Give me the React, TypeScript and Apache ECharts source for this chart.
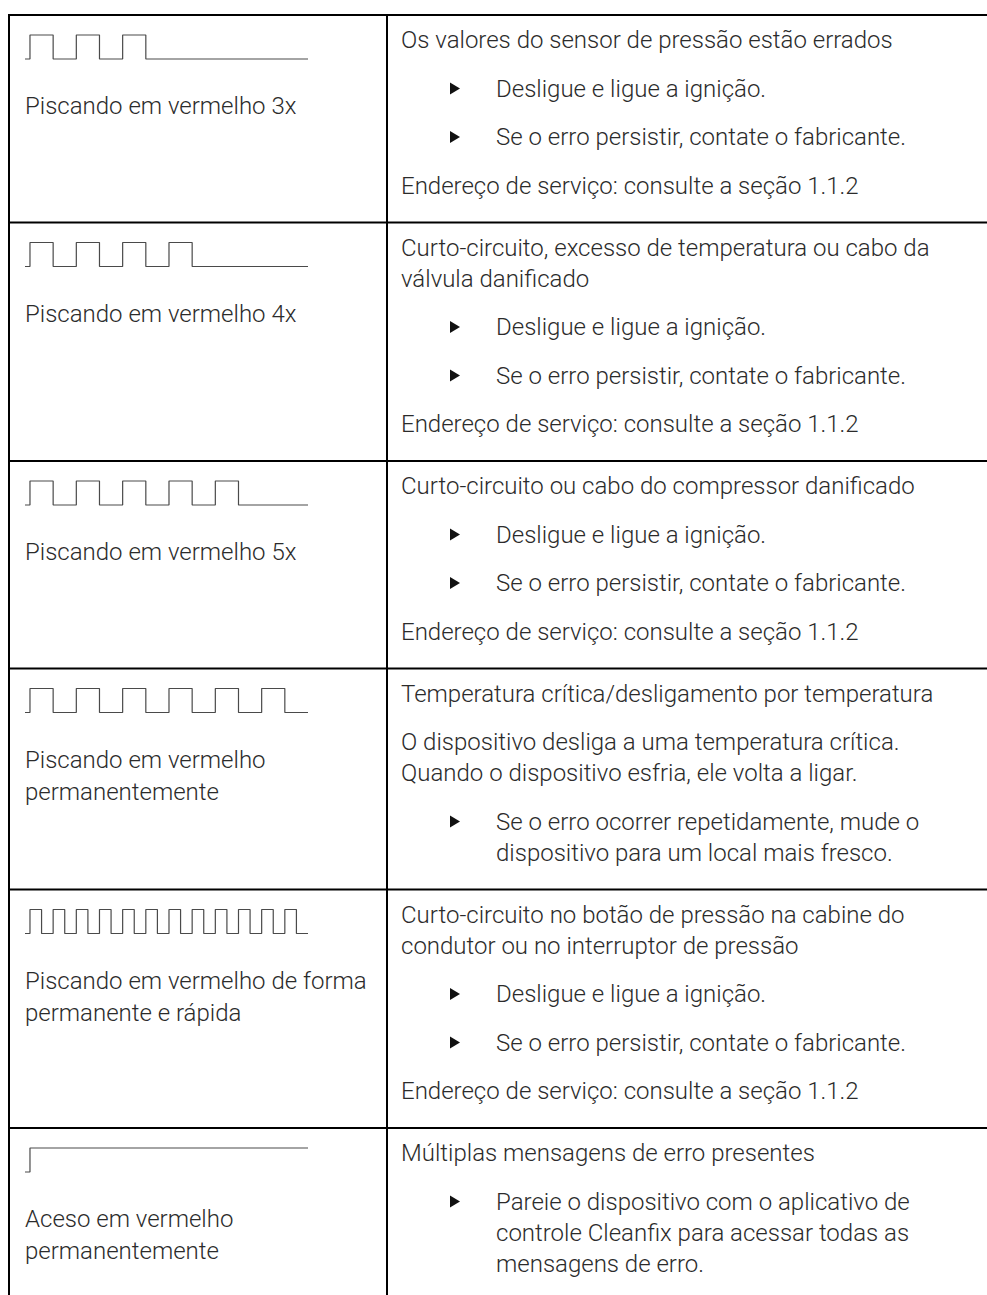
import React, { useEffect, useRef } from "react";
import * as echarts from "echarts";

// ---------- data ----------
const blinkLabels: string[][] = [
  ["Piscando em vermelho 3x"],
  ["Piscando em vermelho 4x"],
  ["Piscando em vermelho 5x"],
  ["Piscando em vermelho", "permanentemente"],
  ["Piscando em vermelho de forma", "permanente e rápida"],
  ["Aceso em vermelho", "permanentemente"],
];

// LED level per time slot (1 = on, 0 = off), 24 slots per pattern
const wave3x = [1, 1, 0, 0, 1, 1, 0, 0, 1, 1, 0, 0, 0, 0, 0, 0, 0, 0, 0, 0, 0, 0, 0, 0];
const wave4x = [1, 1, 0, 0, 1, 1, 0, 0, 1, 1, 0, 0, 1, 1, 0, 0, 0, 0, 0, 0, 0, 0, 0, 0];
const wave5x = [1, 1, 0, 0, 1, 1, 0, 0, 1, 1, 0, 0, 1, 1, 0, 0, 1, 1, 0, 0, 0, 0, 0, 0];
const wavePermanent = [1, 1, 0, 0, 1, 1, 0, 0, 1, 1, 0, 0, 1, 1, 0, 0, 1, 1, 0, 0, 1, 1, 0, 0];
const waveFast = [1, 0, 1, 0, 1, 0, 1, 0, 1, 0, 1, 0, 1, 0, 1, 0, 1, 0, 1, 0, 1, 0, 1, 0];
const waveSolid = [1, 1, 1, 1, 1, 1, 1, 1, 1, 1, 1, 1, 1, 1, 1, 1, 1, 1, 1, 1, 1, 1, 1, 1];
const waves = [wave3x, wave4x, wave5x, wavePermanent, waveFast, waveSolid];

const causeTitles: string[][] = [
  ["Os valores do sensor de pressão estão errados"],
  ["Curto-circuito, excesso de temperatura ou cabo da", "válvula danificado"],
  ["Curto-circuito ou cabo do compressor danificado"],
  ["Temperatura crítica/desligamento por temperatura"],
  ["Curto-circuito no botão de pressão na cabine do", "condutor ou no interruptor de pressão"],
  ["Múltiplas mensagens de erro presentes"],
];

type Para = { bullet: boolean; lines: string[] };
const stepIgnition: Para = { bullet: true, lines: ["Desligue e ligue a ignição."] };
const stepManufacturer: Para = { bullet: true, lines: ["Se o erro persistir, contate o fabricante."] };
const serviceAddress: Para = { bullet: false, lines: ["Endereço de serviço: consulte a seção 1.1.2"] };

const remedies: Para[][] = [
  [stepIgnition, stepManufacturer, serviceAddress],
  [stepIgnition, stepManufacturer, serviceAddress],
  [stepIgnition, stepManufacturer, serviceAddress],
  [
    {
      bullet: false,
      lines: [
        "O dispositivo desliga a uma temperatura crítica.",
        "Quando o dispositivo esfria, ele volta a ligar.",
      ],
    },
    {
      bullet: true,
      lines: ["Se o erro ocorrer repetidamente, mude o", "dispositivo para um local mais fresco."],
    },
  ],
  [stepIgnition, stepManufacturer, serviceAddress],
  [
    {
      bullet: true,
      lines: [
        "Pareie o dispositivo com o aplicativo de",
        "controle Cleanfix para acessar todas as",
        "mensagens de erro.",
      ],
    },
  ],
];

// ---------- layout ----------
const W = 987;
const H = 1295;
const TABLE_LEFT = 9;
const TABLE_TOP = 15;
const COL_X = 387;
const TEXT_L = 25;
const TEXT_R = 401;
const BULLET_X = 450;
const BULLET_TEXT_X = 496;
const PAD_TOP = 25;
const LINE_H = 31;
const PARA_GAP = 48.5;
const PAD_BOTTOM = 37;
const FONT_SIZE = 24;
const TEXT_COLOR = "#2b2b2b";

function buildOption() {
  const graphics: any[] = [];
  const grids: any[] = [];
  const xAxes: any[] = [];
  const yAxes: any[] = [];
  const series: any[] = [];

  const textEl = (x: number, y: number, text: string) => ({
    type: "text",
    x,
    y,
    silent: true,
    style: {
      text,
      fill: TEXT_COLOR,
      fontSize: FONT_SIZE,
      fontFamily: "Roboto, 'Noto Sans', sans-serif",
      fontWeight: 300,
      verticalAlign: "middle",
      align: "left",
    },
  });

  let top = TABLE_TOP;
  const rowTops: number[] = [];
  for (let r = 0; r < causeTitles.length; r++) {
    rowTops.push(top);
    // right column
    let y = top + PAD_TOP;
    let first = true;
    const paras: Para[] = [{ bullet: false, lines: causeTitles[r] }, ...remedies[r]];
    for (const p of paras) {
      if (!first) y += PARA_GAP;
      first = false;
      p.lines.forEach((ln, i) => {
        if (i > 0) y += LINE_H;
        graphics.push(textEl(p.bullet ? BULLET_TEXT_X : TEXT_R, y, ln));
        if (p.bullet && i === 0) {
          graphics.push({
            type: "polygon",
            silent: true,
            shape: {
              points: [
                [BULLET_X, y - 6],
                [BULLET_X + 10, y],
                [BULLET_X, y + 6],
              ],
            },
            style: { fill: "#111" },
          });
        }
      });
    }
    // left column label
    blinkLabels[r].forEach((ln, i) => {
      graphics.push(textEl(TEXT_L, top + 91 + i * 32, ln));
    });
    // waveform grid
    grids.push({ left: 25, width: 283, top: top + 20, height: 24 });
    xAxes.push({ type: "value", gridIndex: r, min: -0.43, max: 24, show: false });
    yAxes.push({ type: "value", gridIndex: r, min: 0, max: 1, show: false });
    const wave = waves[r];
    const data: number[][] = [[-0.43, 0]];
    wave.forEach((lv, i) => data.push([i, lv]));
    data.push([wave.length, wave[wave.length - 1]]);
    series.push({
      type: "line",
      xAxisIndex: r,
      yAxisIndex: r,
      data,
      step: "end",
      symbol: "none",
      clip: false,
      silent: true,
      lineStyle: { color: "#4a4a4a", width: 1.2 },
    });

    top = y + PAD_BOTTOM;
  }

  // borders
  const line = (x1: number, y1: number, x2: number, y2: number) => ({
    type: "line",
    silent: true,
    shape: { x1, y1, x2, y2 },
    style: { stroke: "#000", lineWidth: 2 },
  });
  graphics.push(line(TABLE_LEFT - 1, TABLE_TOP, W + 2, TABLE_TOP));
  rowTops.slice(1).forEach((t) => graphics.push(line(TABLE_LEFT - 1, t, W + 2, t)));
  graphics.push(line(TABLE_LEFT, TABLE_TOP, TABLE_LEFT, H + 2));
  graphics.push(line(COL_X, TABLE_TOP, COL_X, H + 2));

  return {
    animation: false,
    backgroundColor: "#fff",
    grid: grids,
    xAxis: xAxes,
    yAxis: yAxes,
    series,
    graphic: graphics,
  };
}

export default function App() {
  const ref = useRef<HTMLDivElement>(null);
  useEffect(() => {
    if (!ref.current) return;
    const chart = echarts.init(ref.current, undefined, { renderer: "svg" });
    chart.setOption(buildOption() as any);
    return () => chart.dispose();
  }, []);
  return (
    <div
      ref={ref}
      style={{ position: "absolute", left: 0, top: 0, width: W, height: H, background: "#fff" }}
    />
  );
}
